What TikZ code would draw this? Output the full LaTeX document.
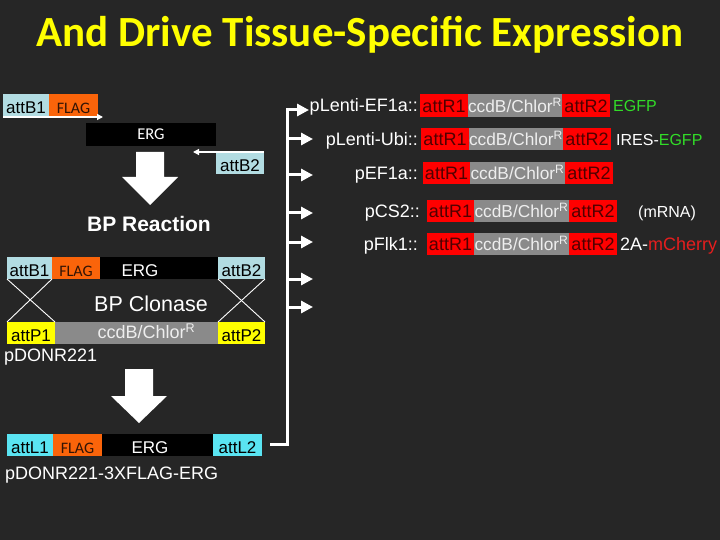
\documentclass[tikz,border=0pt]{standalone}
\usepackage{fontspec}
\setmainfont{Liberation Sans}
\newfontfamily\calib{Carlito}
\usepackage{graphicx}
\usetikzlibrary{arrows.meta}
\definecolor{bg}{RGB}{38,38,38}
\definecolor{attb}{RGB}{178,220,226}
\definecolor{flag}{RGB}{250,100,10}
\definecolor{flagtxt}{RGB}{50,20,5}
\definecolor{attl}{RGB}{90,228,242}
\definecolor{attp}{RGB}{255,255,0}
\definecolor{ccdb}{RGB}{138,138,138}
\definecolor{ccdbtxt}{RGB}{238,238,238}
\definecolor{attr}{RGB}{255,0,0}
\definecolor{attrtxt}{RGB}{80,0,0}
\definecolor{egfp}{RGB}{50,220,40}
\definecolor{cherry}{RGB}{230,30,30}
\definecolor{ttl}{RGB}{255,255,0}
\newcommand\myfs[1]{\fontsize{#1}{#1}\selectfont}
\begin{document}
\begin{tikzpicture}[x=1pt,y=-1pt,
  lseg/.style={anchor=north west, inner sep=0pt, outer sep=0pt, minimum height=22pt,
    text height=17pt, text depth=0pt, font=\myfs{17}, text=black},
  flagseg/.style={lseg, fill=flag, text=flagtxt, font=\calib\myfs{16}},
  ergseg/.style={lseg, fill=black, text=white},
  rseg/.style={anchor=north west, inner sep=0pt, outer sep=0pt, minimum height=22pt,
    text height=14pt, text depth=0pt, font=\myfs{18}},
  redseg/.style={rseg, fill=attr, text=attrtxt, minimum width=48pt},
  grayseg/.style={rseg, fill=ccdb, text=ccdbtxt, minimum width=94pt, font=\myfs{17.3}},
  lab/.style={inner sep=0pt, text=white, font=\myfs{18}},
  thinarr/.style={draw=white, line width=1.3pt, -{Triangle[length=6pt,width=6pt]}},
  cross/.style={draw=white, line width=0.9pt},
  bigarrow/.style={fill=white},
  bus/.style={draw=white, line width=3pt, line join=miter},
  busarr/.style={bus, -{Triangle[length=12pt,width=12pt]}},
]
\fill[bg] (0,0) rectangle (720,540);
\useasboundingbox (0,0) rectangle (720,540);

% title
\node[anchor=base, inner sep=0pt, text=ttl, font=\calib\bfseries\myfs{43}] (title) at (360,47)
  {And Drive Tissue-Specific Expression};

% ---------- top: PCR product ----------
\node[lseg, fill=attb, minimum width=46pt] (b1t) at (3,94) {attB1};
\node[flagseg, minimum width=49pt] (f1t) at (b1t.north east) {FLAG};
\node[ergseg, minimum width=130pt, minimum height=23pt, text height=11pt, font=\calib\myfs{16.5}] (e1t) at (86,123) {ERG};
\node[lseg, fill=attb, minimum width=48pt] (b2t) at (216,152) {attB2};
\coordinate (a1s) at (3,117);
\coordinate (a1e) at (103,117);
\coordinate (a2s) at (264,152);
\coordinate (a2e) at (193,152);
\draw[thinarr] (a1s) -- (a1e);
\draw[thinarr] (a2s) -- (a2e);

\fill[bigarrow] (136,152) -- (164,152) -- (164,177) -- (178,177) -- (150,205) -- (122,177) -- (136,177) -- cycle;
\node[anchor=base, inner sep=0pt, text=white, font=\bfseries\myfs{21}] (bpr) at (149,231) {BP Reaction};

% ---------- middle: BP reaction ----------
\node[lseg, fill=attb, minimum width=45pt] (b1m) at (7,257) {attB1};
\node[flagseg, minimum width=48pt] (f1m) at (b1m.north east) {FLAG};
\node[ergseg, minimum width=118pt] (e1m) at (f1m.north east) {\hspace*{-38pt}ERG};
\node[lseg, fill=attb, minimum width=47pt] (b2m) at (e1m.north east) {attB2};

\node[lseg, fill=attp, minimum width=48pt] (p1m) at (7,322) {attP1};
\node[lseg, fill=ccdb, text=ccdbtxt, minimum width=163pt, text height=11pt, font=\myfs{18}] (cm) at (p1m.north east) {\hspace*{20pt}ccdB/Chlor\textsuperscript{R}};
\node[lseg, fill=attp, minimum width=47pt] (p2m) at (cm.north east) {attP2};

\draw[cross] (b1m.south west) -- (p1m.north east);
\draw[cross] (b1m.south east) -- (p1m.north west);
\draw[cross] (b2m.south west) -- (p2m.north east);
\draw[cross] (b2m.south east) -- (p2m.north west);

\node[anchor=base, inner sep=0pt, text=white, font=\myfs{21.5}] (bpc) at (151,311) {BP Clonase};
\node[lab, anchor=base west] (pdonr) at (4,361) {pDONR221};

\fill[bigarrow] (125,369) -- (153,369) -- (153,396) -- (167,396) -- (139,423) -- (111,396) -- (125,396) -- cycle;

% ---------- bottom: entry clone ----------
\node[lseg, fill=attl, minimum width=46pt] (l1) at (7,434) {attL1};
\node[flagseg, minimum width=49pt] (f1b) at (l1.north east) {FLAG};
\node[ergseg, minimum width=111pt] (e1b) at (f1b.north east) {\hspace*{-15pt}ERG};
\node[lseg, fill=attl, minimum width=49pt] (l2) at (e1b.north east) {attL2};
\node[lab, anchor=base west] (pdfe) at (5,479) {pDONR221-3XFLAG-ERG};

% ---------- bus ----------
\coordinate (ls) at (270,444);
\coordinate (jb) at (287,444);
\coordinate (j1) at (287,110);
\coordinate (t1) at (309,110);
\draw[busarr] (ls) -- (jb) -- (j1) -- (t1);
\foreach \y/\n in {139/2,175/3,213/4,242/5,279/6,307/7}{
  \coordinate (j\n) at (287,\y);
  \coordinate (t\n) at (313,\y);
  \draw[busarr] (j\n) -- (t\n);
}

% ---------- destination vectors ----------
% row 1
\node[redseg, minimum height=23pt] (r1a) at (420,94) {attR1};
\node[grayseg, minimum height=23pt] (r1b) at (r1a.north east) {ccdB/Chlor\textsuperscript{R}};
\node[redseg, minimum height=23pt] (r1c) at (r1b.north east) {attR2};
\node[lab, anchor=base east] (v1) at (418,112) {pLenti-EF1a::};
\node[lab, anchor=base west, text=egfp, font=\myfs{16}] (g1) at (613,112) {EGFP};
% row 2
\node[redseg] (r2a) at (421,128) {attR1};
\node[grayseg] (r2b) at (r2a.north east) {ccdB/Chlor\textsuperscript{R}};
\node[redseg] (r2c) at (r2b.north east) {attR2};
\node[lab, anchor=base east] (v2) at (418,146) {pLenti-Ubi::};
\node[lab, anchor=base west, font=\myfs{16}] (g2) at (616,146) {IRES-\textcolor{egfp}{EGFP}};
% row 3
\node[redseg, minimum width=47pt] (r3a) at (423,162) {attR1};
\node[grayseg, minimum width=95pt] (r3b) at (r3a.north east) {ccdB/Chlor\textsuperscript{R}};
\node[redseg] (r3c) at (r3b.north east) {attR2};
\node[lab, anchor=base east] (v3) at (418,180) {pEF1a::};
% row 4
\node[redseg, minimum width=47pt] (r4a) at (427,200) {attR1};
\node[grayseg, minimum width=95pt] (r4b) at (r4a.north east) {ccdB/Chlor\textsuperscript{R}};
\node[redseg] (r4c) at (r4b.north east) {attR2};
\node[lab, anchor=base east] (v4) at (420,218) {pCS2::};
\node[lab, anchor=base west, font=\myfs{16}] (g4) at (638,218) {(mRNA)};
% row 5
\node[redseg, minimum width=47pt] (r5a) at (427,233) {attR1};
\node[grayseg, minimum width=95pt] (r5b) at (r5a.north east) {ccdB/Chlor\textsuperscript{R}};
\node[redseg] (r5c) at (r5b.north east) {attR2};
\node[lab, anchor=base east] (v5) at (418,251) {pFlk1::};
\node[lab, anchor=base west] (g5) at (620,251) {2A-\textcolor{cherry}{mCherry}};
\end{tikzpicture}
\end{document}
